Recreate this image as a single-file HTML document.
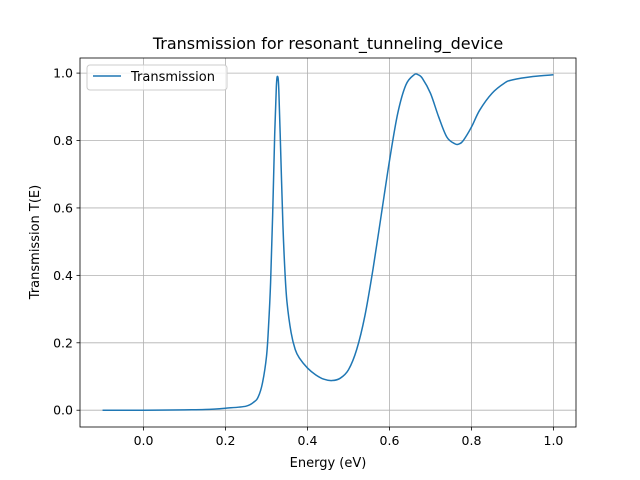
<!DOCTYPE html>
<html><head><meta charset="utf-8"><style>
body{margin:0;background:#fff;}
svg{display:block;font-family:"DejaVu Sans","Liberation Sans",sans-serif;}
</style></head><body>
<svg id="chart" width="640" height="480">
<rect x="0" y="0" width="640" height="480" fill="#fff"/>
<g id="grid"></g>
<g id="ticks"></g>
<path id="line" fill="none" stroke="#1f77b4" stroke-width="1.5" stroke-linejoin="round"/>
<rect x="80" y="58" width="496" height="369" fill="none" stroke="#000" stroke-width="0.8"/>
<text x="328" y="49" text-anchor="middle" font-size="16">Transmission for resonant_tunneling_device</text>
<text x="328" y="467" text-anchor="middle" font-size="13">Energy (eV)</text>
<text transform="translate(39,242) rotate(-90)" text-anchor="middle" font-size="13">Transmission T(E)</text>
<g>
<rect x="87" y="65" width="140" height="25" rx="3" fill="#fff" fill-opacity="0.8" stroke="#ccc"/>
<line x1="93" y1="76" x2="121" y2="76" stroke="#1f77b4" stroke-width="1.5"/>
<text x="131" y="81" font-size="13">Transmission</text>
</g>
</svg>
<script>
const energy=[-0.1,0.0,0.1,0.15,0.2,0.25,0.27,0.28,0.29,0.3,0.305,0.31,0.315,0.32,0.324,0.327,0.33,0.335,0.34,0.345,0.35,0.36,0.37,0.38,0.4,0.42,0.44,0.46,0.48,0.5,0.52,0.54,0.56,0.58,0.6,0.62,0.64,0.66,0.67,0.68,0.7,0.72,0.74,0.76,0.77,0.78,0.8,0.82,0.85,0.88,0.9,0.95,1.0];
const transmission=[0,0,0.001,0.002,0.006,0.012,0.025,0.04,0.08,0.16,0.25,0.38,0.58,0.82,0.96,0.99,0.95,0.75,0.55,0.41,0.32,0.23,0.18,0.155,0.125,0.105,0.092,0.088,0.095,0.12,0.18,0.28,0.42,0.58,0.74,0.88,0.965,0.995,0.995,0.985,0.94,0.87,0.81,0.79,0.79,0.80,0.84,0.89,0.94,0.97,0.98,0.99,0.995];
const xTicks=[0.0,0.2,0.4,0.6,0.8,1.0];
const yTicks=[0.0,0.2,0.4,0.6,0.8,1.0];
const X0=80,X1=576,Y0=427,Y1=58,xmin=-0.155,xmax=1.055,ymin=-0.0498,ymax=1.0448;
const sx=v=>X0+(v-xmin)/(xmax-xmin)*(X1-X0);
const sy=v=>Y0-(v-ymin)/(ymax-ymin)*(Y0-Y1);
const NS="http://www.w3.org/2000/svg";
const grid=document.getElementById('grid'),ticks=document.getElementById('ticks');
function mk(tag,attrs,parent,txt){const e=document.createElementNS(NS,tag);for(const k in attrs)e.setAttribute(k,attrs[k]);if(txt!==undefined)e.textContent=txt;parent.appendChild(e);return e;}
xTicks.forEach(t=>{const x=sx(t);
const g=mk('line',{x1:x,x2:x,y1:Y1,y2:Y0,stroke:'#b0b0b0','stroke-width':0.8},grid);


mk('line',{x1:x,x2:x,y1:Y0,y2:Y0+3.5,stroke:'#000','stroke-width':0.8},ticks);
const l=mk('text',{x:x,y:Y0+18,'text-anchor':'middle','font-size':12.5},ticks,t.toFixed(1));

});
yTicks.forEach(t=>{const y=sy(t);
const g=mk('line',{x1:X0,x2:X1,y1:y,y2:y,stroke:'#b0b0b0','stroke-width':0.8},grid);


mk('line',{x1:X0-3.5,x2:X0,y1:y,y2:y,stroke:'#000','stroke-width':0.8},ticks);
const l=mk('text',{x:X0-7,y:y+4.5,'text-anchor':'end','font-size':12.5},ticks,t.toFixed(1));

});
// smooth path via Catmull-Rom
const P=energy.map((e,i)=>[sx(e),sy(transmission[i])]);
let d='M'+P[0][0].toFixed(2)+','+P[0][1].toFixed(2);
for(let i=0;i<P.length-1;i++){const p0=P[Math.max(0,i-1)],p1=P[i],p2=P[i+1],p3=P[Math.min(P.length-1,i+2)];
const c1=[p1[0]+(p2[0]-p0[0])/6,p1[1]+(p2[1]-p0[1])/6],c2=[p2[0]-(p3[0]-p1[0])/6,p2[1]-(p3[1]-p1[1])/6];
d+='C'+c1.map(v=>v.toFixed(2)).join(',')+' '+c2.map(v=>v.toFixed(2)).join(',')+' '+p2[0].toFixed(2)+','+p2[1].toFixed(2);}
document.getElementById('line').setAttribute('d',d);
</script>
</body></html>
